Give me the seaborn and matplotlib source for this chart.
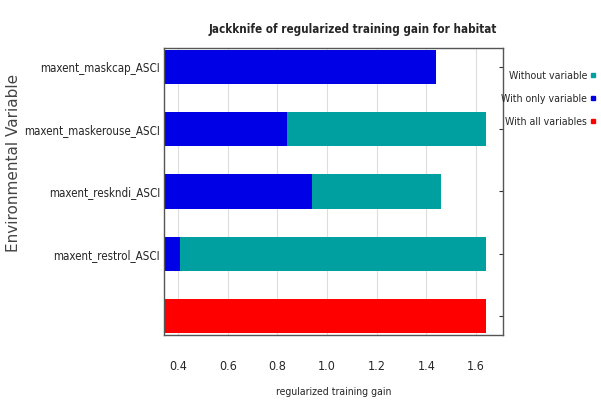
import numpy as np
import pandas as pd
import matplotlib.pyplot as plt
import seaborn as sns

variables = [
    "maxent_maskcap_ASCI",
    "maxent_maskerouse_ASCI",
    "maxent_reskndi_ASCI",
    "maxent_restrol_ASCI",
]
all_label = " "
without_gain = [1.04, 1.64, 1.46, 1.64]
with_only_gain = [1.44, 0.84, 0.94, 0.41]
all_gain = [1.64]
xticks = [0.4, 0.6, 0.8, 1.0, 1.2, 1.4, 1.6]

teal = "#00a0a0"
blue = "#0000e6"
red = "#ff0000"

order = variables + [all_label]
df_without = pd.DataFrame({"var": variables, "gain": without_gain})
df_only = pd.DataFrame({"var": variables, "gain": with_only_gain})
df_all = pd.DataFrame({"var": [all_label], "gain": all_gain})

sns.set_style("white")
plt.rcParams["font.family"] = ["DejaVu Sans"]
plt.rcParams["font.stretch"] = "condensed"

fig = plt.figure(figsize=(6.01, 4.07), dpi=100)
ax = fig.add_axes([0.273, 0.177, 0.564, 0.705])

kw = dict(y="var", x="gain", order=order, orient="h", width=0.55,
          linewidth=0, ax=ax)
sns.barplot(data=df_without, color=teal, saturation=1, **kw)
sns.barplot(data=df_only, color=blue, saturation=1, **kw)
sns.barplot(data=df_all, color=red, saturation=1, **kw)

ax.set_xlim(0.344, 1.708)
ax.set_ylim(4.3, -0.3)
ax.set_xticks(xticks)
ax.set_xticklabels([f"{t:.1f}" for t in xticks], fontsize=9)
ax.tick_params(axis="x", length=0, pad=18)
ax.tick_params(axis="y", left=False, right=True, direction="in", length=3,
               color="#333333", labelsize=8.3, pad=3)
ax.grid(axis="x", color="#dddddd", linewidth=0.8)
ax.set_axisbelow(True)
for s in ax.spines.values():
    s.set_color("#555555")
    s.set_linewidth(1.0)

fig.text(353 / 601, 1 - 30 / 407,
         "Jackknife of regularized training gain for habitat",
         ha="center", va="center", fontsize=8.4, fontweight="bold")
ax.set_xlabel("regularized training gain", fontsize=7.5, labelpad=10)
ax.set_ylabel("")
fig.text(0.022, 1 - 163 / 407, "Environmental Variable", rotation=90,
         ha="center", va="center", fontsize=11, fontstretch="normal",
         color="#444444")

handles = [
    plt.Line2D([], [], marker="s", color=teal, linestyle="", markersize=3.5),
    plt.Line2D([], [], marker="s", color=blue, linestyle="", markersize=3.5),
    plt.Line2D([], [], marker="s", color=red, linestyle="", markersize=3.5),
]
fig.legend(handles, ["Without variable", "With only variable",
                     "With all variables"],
           loc="upper right", bbox_to_anchor=(1.01, 0.85), frameon=False,
           markerfirst=False, handletextpad=0.2, handlelength=0.8,
           labelspacing=1.25, fontsize=7.6, alignment="right")

fig.savefig("out.png", dpi=100)
